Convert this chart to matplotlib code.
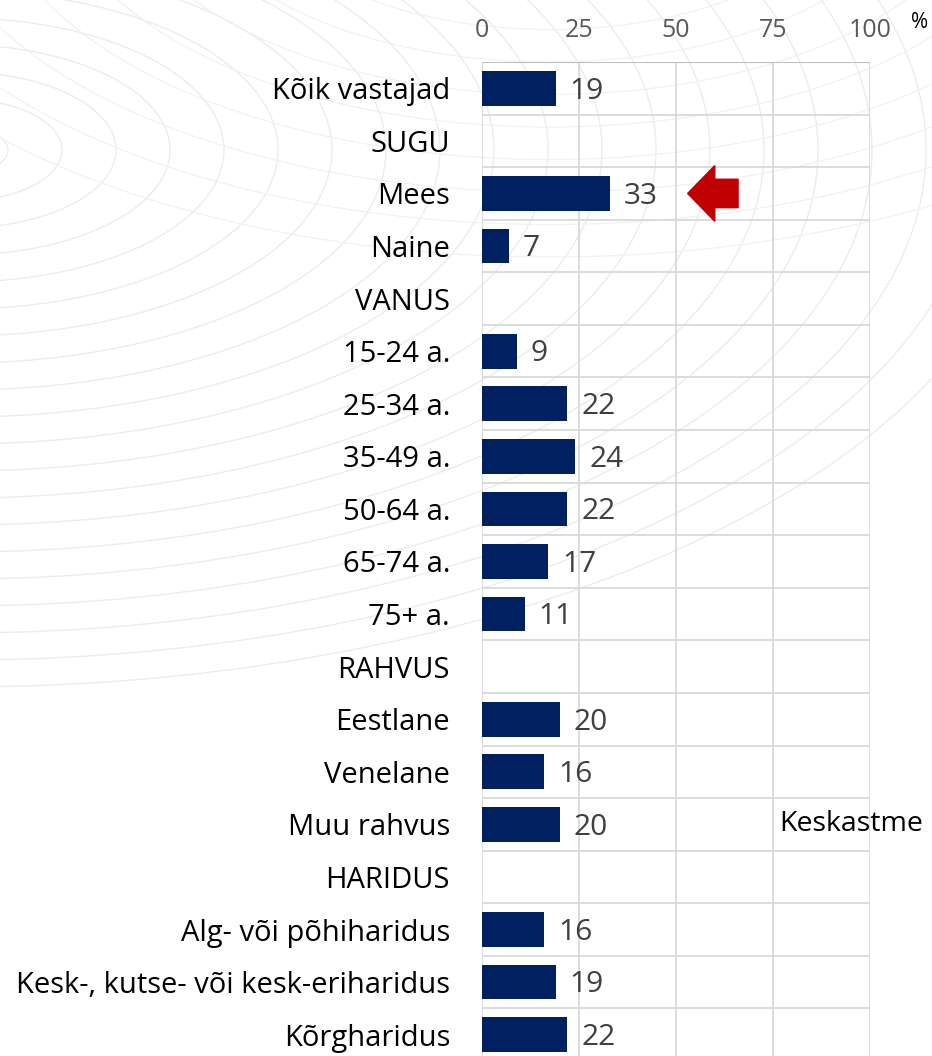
import numpy as np
import matplotlib.pyplot as plt
from matplotlib.patches import Ellipse, Polygon

categories = ["Kõik vastajad", "SUGU", "Mees", "Naine", "VANUS",
              "15-24 a.", "25-34 a.", "35-49 a.", "50-64 a.", "65-74 a.", "75+ a.",
              "RAHVUS", "Eestlane", "Venelane", "Muu rahvus",
              "HARIDUS", "Alg- või põhiharidus", "Kesk-, kutse- või kesk-eriharidus", "Kõrgharidus"]
values = [19, None, 33, 7, None,
          9, 22, 24, 22, 17, 11,
          None, 20, 16, 20,
          None, 16, 19, 22]
xticks = [0, 25, 50, 75, 100]

plt.rcParams['font.family'] = ['Open Sans', 'DejaVu Sans']

fig = plt.figure(figsize=(9.32, 10.56), dpi=100)

# faint watermark arcs in the background
bg = fig.add_axes([0, 0, 1, 1], zorder=0)
bg.set_xlim(0, 932)
bg.set_ylim(1056, 0)
bg.axis('off')
for r in np.arange(40, 900, 45):
    bg.add_patch(Ellipse((-40, 150), 2 * r * 1.2, 2 * r * 0.6, fill=False,
                         ec='#ececec', lw=1.0))
for r in np.arange(80, 600, 50):
    bg.add_patch(Ellipse((550, -120), 2 * r * 1.3, 2 * r * 0.65, fill=False,
                         ec='#f1f1f1', lw=0.9))

ax = fig.add_axes([482 / 932, -5 / 1056, 388 / 932, 999 / 1056], zorder=1)
ax.patch.set_alpha(0)

n = len(categories)
y = np.arange(n)
vals = np.array([v if v is not None else 0 for v in values], dtype=float)
mask = np.array([v is not None for v in values])

ax.barh(y[mask], vals[mask], height=0.66, color='#002060', zorder=3)

for yi, v in zip(y, values):
    if v is not None:
        ax.annotate(str(v), (v, yi), xytext=(10, -2), textcoords='offset points',
                    va='center', ha='left', fontsize=21.5, color='#404040', zorder=4)

ax.set_xlim(0, 100)
ax.set_ylim(n - 0.5, -0.5)
ax.set_xticks(xticks)
ax.xaxis.tick_top()
ax.tick_params(axis='x', length=0, pad=14, labelsize=18, labelcolor='#595959')
ax.set_yticks(y)
ax.set_yticklabels(categories, fontsize=21, color='black')
ax.tick_params(axis='y', length=0, pad=23)

# grid: vertical at ticks, horizontal at row boundaries
for xv in xticks:
    ax.axvline(xv, color='#d9d9d9', lw=1.3, zorder=1)
for b in np.arange(-0.5, n, 1.0):
    ax.axhline(b, color='#d9d9d9', lw=1.3, zorder=1)
ax.axhline(-0.5, color='#bfbfbf', lw=1.5, zorder=2)
for s in ax.spines.values():
    s.set_visible(False)

# red arrow pointing at Mees
mi = categories.index("Mees")
tip = values[mi] + 20
arrow = np.array([[tip, mi], [tip + 7, mi - 0.53], [tip + 7, mi - 0.27],
                  [tip + 13, mi - 0.27], [tip + 13, mi + 0.27],
                  [tip + 7, mi + 0.27], [tip + 7, mi + 0.53]])
ax.add_patch(Polygon(arrow, closed=True, color='#C00000', zorder=5, clip_on=False))

ki = categories.index("Muu rahvus")
ax.text(76.5, ki, "Keskastme", fontsize=20.5, color='black', va='center', ha='left',
        clip_on=False, zorder=5)

fig.text(911 / 932, 1 - 22 / 1056, "%", fontsize=15, color='black', ha='left', va='center')

fig.savefig('out.png', dpi=100)
